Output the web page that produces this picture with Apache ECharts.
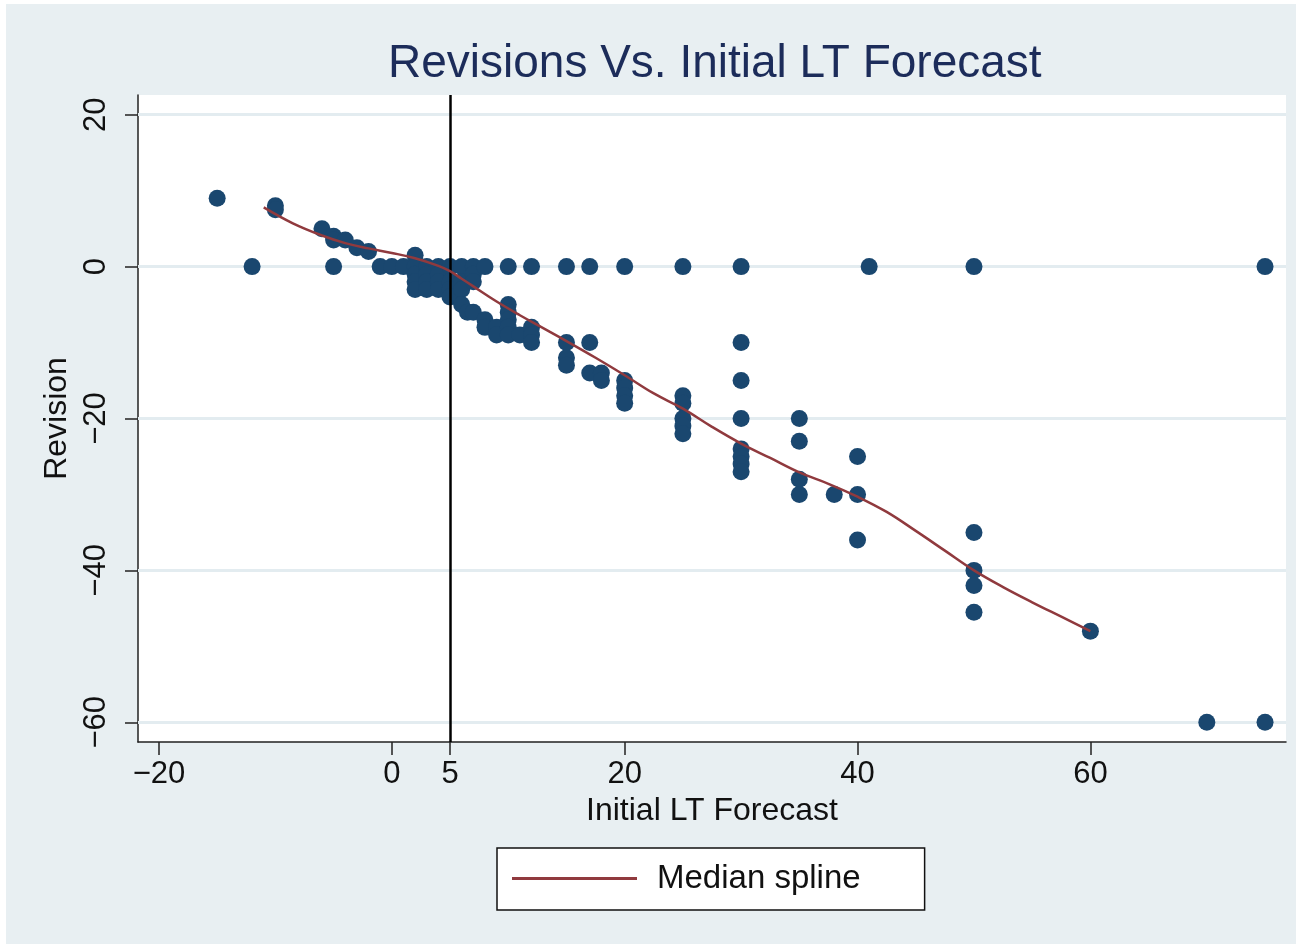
<!DOCTYPE html>
<html>
<head>
<meta charset="utf-8">
<script src="https://cdn.jsdelivr.net/npm/echarts@6/dist/echarts.min.js"></script>
<style>
html,body{margin:0;padding:0;background:#ffffff;}
#chart{width:1302px;height:949px;}
</style>
</head>
<body>
<div id="chart"></div>
<script>
// Scatter data: initial long-term forecast (x) and revision (y)
const forecastX = [-15,-12,-10,-10,-6,-5,-5,-5,-4,-3,-2,-1,0,1,
  2,2,2,2,2, 3,3,3,3, 4,4,4,4, 5,5,5,5, 6,6,6,6, 6.5, 7,7,7,7, 8,8,8, 9,9,
  10,10,10,10,10,10, 11, 12,12,12,12, 15,15,15,15, 17,17,17, 18,18,
  20,20,20,20,20, 25,25,25,25,25,25, 30,30,30,30,30,30,30,30,
  35,35,35,35, 38, 40,40,40, 41, 50,50,50,50,50, 60, 70, 75,75];
const revisionY = [9,0,8,7.5,5,4,3.5,0,3.5,2.5,2,0,0,0,
  1.5,0,-1,-2,-3, 0,-1,-2,-3, 0,-1,-2,-3, 0,-2,-3,-4, 0,-2,-3,-5, -6, 0,-1,-2,-6, 0,-7,-8, -8,-9,
  0,-5,-6,-7,-8,-9, -9, 0,-8,-9,-10, 0,-10,-12,-13, 0,-10,-14, -14,-15,
  0,-15,-16,-17,-18, 0,-17,-18,-20,-21,-22, 0,-10,-15,-20,-24,-25,-26,-27,
  -20,-23,-28,-30, -30, -25,-30,-36, 0, 0,-35,-40,-42,-45.5, -48, -60, 0,-60];

// Median spline
const splineX = [-11,-8.5,-6,-4,-2,0,2,4,5,6,7,9,11,13,15,17.5,20,22.5,25,27.5,30,32.5,35,37.5,40,42.5,45,47.5,50,52.5,55,57.5,60];
const splineY = [7.8,5.7,4.1,3.1,2.4,1.8,1.1,0.1,-0.6,-1.6,-2.6,-4.6,-6.4,-8.1,-9.8,-12,-14.3,-16.7,-18.7,-21.1,-23.3,-25.2,-27.1,-28.6,-30.3,-32.3,-34.8,-37.4,-40,-42.2,-44.2,-46.1,-48];

// Tick labels
const xTicks = [-20, 0, 5, 20, 40, 60];
const yTicks = [20, 0, -20, -40, -60];
const refLineX = 5;

const titleText = 'Revisions Vs. Initial LT Forecast';
const xName = 'Initial LT Forecast';
const yName = 'Revision';
const splineName = 'Median spline';

const fmt = v => (v < 0 ? '\u2212' + Math.abs(v) : String(v));
const FONT = '"Liberation Sans", Arial, sans-serif';

const chart = echarts.init(document.getElementById('chart'), null, {renderer: 'canvas'});
chart.setOption({
  backgroundColor: '#ffffff',
  animation: false,
  graphic: [{
    type: 'rect', z: -10, silent: true,
    shape: {x: 6, y: 4, width: 1290, height: 940},
    style: {fill: '#e8eff2'}
  }],
  title: {
    text: titleText, left: 383, top: 36,
    textStyle: {fontFamily: FONT, fontSize: 46, fontWeight: 'normal', color: '#1c2c5a'}
  },
  grid: {
    left: 138, right: 16, top: 95, bottom: 207,
    show: true, backgroundColor: '#ffffff', borderWidth: 0
  },
  legend: {
    data: [{name: splineName, icon: 'rect'}],
    left: 497, top: 848,
    itemWidth: 125, itemHeight: 3,
    backgroundColor: '#ffffff', borderColor: '#111', borderWidth: 1.5, borderRadius: 0,
    padding: [14, 64, 15, 15],
    textStyle: {fontFamily: FONT, fontSize: 33, color: '#111', padding: [0, 0, 0, 15]}
  },
  xAxis: {
    type: 'value', min: -21.8, max: 76.8,
    name: xName, nameLocation: 'middle', nameGap: 53,
    nameTextStyle: {fontFamily: FONT, fontSize: 32, color: '#111'},
    axisLine: {onZero: false, lineStyle: {color: '#222', width: 1.5}},
    axisTick: {show: true, inside: false, length: 13, lineStyle: {color: '#222', width: 1.5}, customValues: xTicks},
    axisLabel: {customValues: xTicks, formatter: fmt, margin: 17,
      fontFamily: FONT, fontSize: 31, color: '#111'},
    splitLine: {show: false}
  },
  yAxis: {
    type: 'value', min: -62.6, max: 22.6,
    name: yName, nameLocation: 'middle', nameGap: 61, nameRotate: 90,
    nameTextStyle: {fontFamily: FONT, fontSize: 32, color: '#111'},
    axisLine: {onZero: false, lineStyle: {color: '#222', width: 1.5}},
    axisTick: {show: true, inside: false, length: 13, lineStyle: {color: '#222', width: 1.5}, customValues: yTicks},
    axisLabel: {customValues: yTicks, formatter: fmt, rotate: 90, margin: 26,
      fontFamily: FONT, fontSize: 31, color: '#111'},
    splitLine: {show: false}
  },
  series: [
    {
      name: 'grid', type: 'line', data: [], silent: true, z: 1,
      markLine: {
        silent: true, symbol: 'none', z: 1, animation: false,
        label: {show: false},
        lineStyle: {color: '#e3ecf0', width: 3, type: 'solid'},
        data: yTicks.map(v => ({yAxis: v}))
      }
    },
    {
      name: 'Revision', type: 'scatter', z: 2,
      symbol: 'circle', symbolSize: 17,
      itemStyle: {color: '#1a476f', opacity: 1},
      data: forecastX.map((x, i) => [x, revisionY[i]])
    },
    {
      name: 'ref', type: 'line', data: [], silent: true, z: 3,
      markLine: {
        silent: true, symbol: 'none', z: 3, animation: false,
        label: {show: false},
        lineStyle: {color: '#000', width: 2.5, type: 'solid'},
        data: [{xAxis: refLineX}]
      }
    },
    {
      name: splineName, type: 'line', z: 4, smooth: 0.4,
      showSymbol: false, symbol: 'none',
      lineStyle: {color: '#903a3e', width: 2.5},
      itemStyle: {color: '#903a3e'},
      data: splineX.map((x, i) => [x, splineY[i]])
    }
  ]
});
</script>
</body>
</html>
